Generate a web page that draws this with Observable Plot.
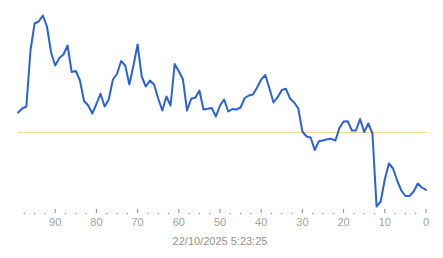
<!DOCTYPE html>
<html>
<head>
<meta charset="utf-8">
<script src="https://cdn.jsdelivr.net/npm/d3@7"></script>
<script src="https://cdn.jsdelivr.net/npm/@observablehq/plot@0.6"></script>
<style>
  html, body { margin: 0; padding: 0; background: #fff; }
  #chart svg { display: block; }
</style>
</head>
<body>
<div id="chart"></div>
<script>
// time offsets (from 99 down to 0)
const ages = d3.range(99, -1, -1);
// series values (arbitrary units), one per age above
const values = [
  98, 102, 104, 160, 187, 189, 195, 184, 158, 145,
  152.5, 156, 165, 138.5, 139.5, 130, 109.5, 105, 97, 106.5,
  116.7, 104, 111, 131, 136.5, 149.5, 145, 126, 145, 166,
  134, 124, 130, 126, 112, 100, 114, 105, 146.5, 139.3,
  131.2, 100, 111.7, 112.7, 120, 101, 101.7, 102.5, 94, 105,
  111, 99, 101.5, 101, 103, 112.5, 115, 116, 123, 131,
  135.5, 122, 108, 113.3, 120.5, 121.7, 112, 108, 102, 79,
  74, 73, 60.5, 69.3, 70, 71.3, 71.7, 70, 82.5, 89,
  89.3, 80, 80, 91.5, 78.5, 87, 77, 4, 9, 31,
  47, 42, 30, 20, 14.5, 14.5, 19, 27, 23, 20.7
];
const threshold = 78;
const majorTicks = [90, 80, 70, 60, 50, 40, 30, 20, 10, 0];
const minorTicks = d3.range(97.5, -0.1, -2.5).filter(v => v % 10 !== 0);
const caption = "22/10/2025 5:23:25";

const data = ages.map((a, i) => ({age: a, value: values[i]}));

const chart = Plot.plot({
  width: 443,
  height: 258,
  marginLeft: 13.5,
  marginRight: 17.5,
  marginTop: 10,
  marginBottom: 49,
  style: {fontFamily: "Arial, 'Liberation Sans', sans-serif", fontSize: "11px", background: "#fff"},
  x: {domain: [100, 0]},
  y: {domain: [0, 200], range: [210, 10], axis: null},
  marks: [
    Plot.ruleY([threshold], {x1: 99, x2: -0.3, stroke: "#f0dc8c", strokeWidth: 1}),
    Plot.lineY(data, {x: "age", y: "value", stroke: "#2a62d8", strokeWidth: 2, strokeLinejoin: "round"}),
    Plot.axisX({ticks: majorTicks, tickSize: 4, tickPadding: 5, stroke: "#888", color: "#a0a0a0", label: null, fontSize: 11}),
    Plot.dot(minorTicks, {x: d => d, frameAnchor: "bottom", dy: 4, r: 0.8, fill: "#999", stroke: null}),
    Plot.text([caption], {frameAnchor: "bottom", dy: 32, lineAnchor: "middle", fill: "#909090", fontSize: 11})
  ]
});
document.getElementById("chart").appendChild(chart);
</script>
</body>
</html>
